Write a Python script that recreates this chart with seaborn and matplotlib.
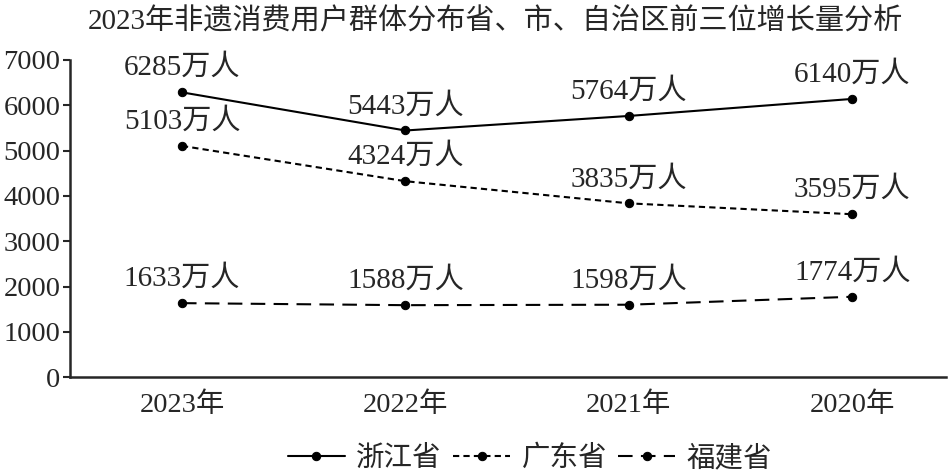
import pandas as pd
import seaborn as sns
import matplotlib.pyplot as plt

# data
years = ['2023年', '2022年', '2021年', '2020年']
zhejiang = [6285, 5443, 5764, 6140]
guangdong = [5103, 4324, 3835, 3595]
fujian = [1633, 1588, 1598, 1774]
provinces = ['浙江省', '广东省', '福建省']

sns.set_style('ticks')
plt.rcParams['font.family'] = ['Liberation Serif', 'Noto Sans CJK SC']
plt.rcParams['axes.unicode_minus'] = False

rows = []
for name, vals in zip(provinces, [zhejiang, guangdong, fujian]):
    for y, v in zip(years, vals):
        rows.append({'year': y, 'value': v, 'province': name})
df = pd.DataFrame(rows)

fig = plt.figure(figsize=(9.49, 4.72), dpi=100)
ax = fig.add_axes([0.074, 0.201, 0.923, 0.672])

sns.lineplot(data=df, x='year', y='value', hue='province', style='province',
             palette=['black'] * 3, markers=['o', 'o', 'o'],
             dashes={'浙江省': '', '广东省': (3, 2), '福建省': (7, 4)},
             sort=False, linewidth=1.5, markersize=6, markeredgecolor='black',
             ax=ax)

# value labels above each point
for name, vals in zip(provinces, [zhejiang, guangdong, fujian]):
    for i, v in enumerate(vals):
        ax.annotate(f'{v}万人', (i, v), xytext=(0, 8), textcoords='offset points',
                    ha='center', va='bottom', fontsize=21)

ax.set_xlim(-0.5, 3.42)
ax.set_ylim(0, 7000)
ax.set_yticks(range(0, 7001, 1000))
ax.set_xlabel('')
ax.set_ylabel('')
ax.tick_params(axis='y', labelsize=20.5, length=5, width=1.5, pad=2)
ax.tick_params(axis='x', labelsize=20.5, length=0, pad=11)
sns.despine(ax=ax)
for s in ['left', 'bottom']:
    ax.spines[s].set_linewidth(1.8)

ax.set_title('2023年非遗消费用户群体分布省、市、自治区前三位增长量分析',
             fontsize=21, pad=22, x=0.485)

sns.move_legend(ax, 'lower center', bbox_to_anchor=(0.525, -0.38), ncol=3,
                frameon=False, title=None, fontsize=20.5, handlelength=2.0,
                columnspacing=0.4, handletextpad=0.4)

fig.savefig('out.png', dpi=100)
